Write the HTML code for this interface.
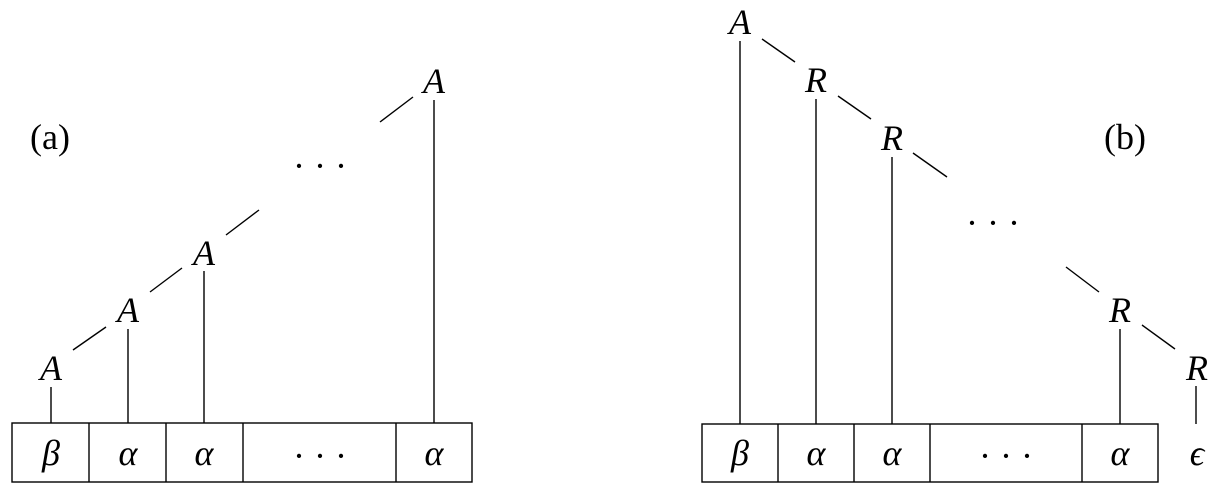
<!DOCTYPE html>
<html><head><style>html,body{margin:0;padding:0;background:#fff}</style></head>
<body>
<svg width="1218" height="491" xmlns="http://www.w3.org/2000/svg" style="display:block">
<g stroke="#000" stroke-width="1.4" fill="none">
<rect x="12" y="423" width="460" height="59"/>
<line x1="89" y1="423" x2="89" y2="482"/><line x1="166" y1="423" x2="166" y2="482"/>
<line x1="243" y1="423" x2="243" y2="482"/><line x1="396" y1="423" x2="396" y2="482"/>
<line x1="51" y1="387" x2="51" y2="423"/><line x1="128" y1="329" x2="128" y2="423"/>
<line x1="204" y1="271" x2="204" y2="423"/><line x1="434" y1="100" x2="434" y2="423"/>
<line x1="73" y1="350" x2="106" y2="327"/><line x1="150" y1="292" x2="182" y2="268"/>
<line x1="226" y1="235" x2="259" y2="210"/><line x1="380" y1="122" x2="413" y2="97"/>
<rect x="702" y="424" width="456" height="58"/>
<line x1="778" y1="424" x2="778" y2="482"/><line x1="854" y1="424" x2="854" y2="482"/>
<line x1="930" y1="424" x2="930" y2="482"/><line x1="1082" y1="424" x2="1082" y2="482"/>
<line x1="740" y1="41" x2="740" y2="424"/><line x1="816" y1="99" x2="816" y2="424"/>
<line x1="892" y1="157" x2="892" y2="424"/><line x1="1120" y1="329" x2="1120" y2="424"/>
<line x1="1196" y1="386" x2="1196" y2="424"/>
<line x1="762" y1="39" x2="795" y2="62"/><line x1="838" y1="96" x2="871" y2="119"/>
<line x1="913" y1="153" x2="947" y2="177"/><line x1="1066" y1="267" x2="1099" y2="292"/>
<line x1="1142" y1="325" x2="1175" y2="349"/>
</g>
<g font-family="Liberation Serif, serif" font-size="36" text-anchor="middle" fill="#000">
<g font-style="italic">
<text x="51" y="380">A</text><text x="128" y="322">A</text><text x="204" y="265">A</text><text x="434" y="93">A</text>
<text x="51" y="465">β</text><text x="128" y="465">α</text><text x="204" y="465">α</text><text x="434" y="465">α</text>
<text x="740" y="34">A</text><text x="816" y="92">R</text><text x="892" y="150">R</text><text x="1120" y="322">R</text><text x="1197" y="380">R</text>
<text x="740" y="465">β</text><text x="816" y="465">α</text><text x="892" y="465">α</text><text x="1120" y="465">α</text><text x="1197" y="465">ϵ</text>
</g>
<text x="50" y="149">(a)</text><text x="1125" y="149">(b)</text>
<text x="320" y="178">· · ·</text><text x="320" y="468">· · ·</text>
<text x="993" y="235">· · ·</text><text x="1006" y="468">· · ·</text>
</g>
</svg>
</body></html>
